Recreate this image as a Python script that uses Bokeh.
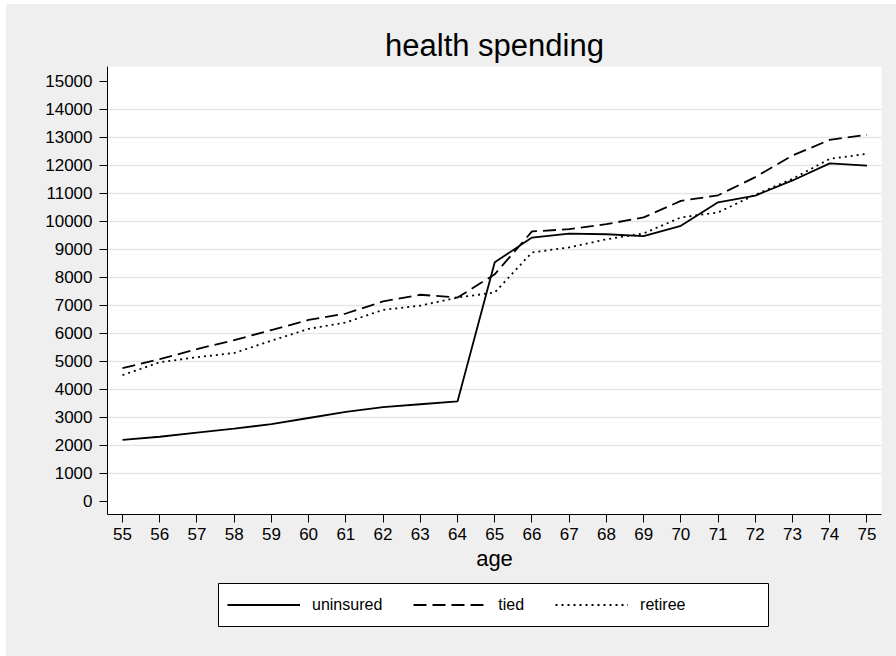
from bokeh.plotting import figure
from bokeh.layouts import column
from bokeh.models import (ColumnDataSource, FixedTicker, Legend, LegendItem, Range1d, BoxAnnotation)
from bokeh.embed import file_html
from bokeh.resources import INLINE

# ---- data ----
ages = list(range(55, 76))
uninsured = [2190, 2300, 2450, 2590, 2750, 2970, 3190, 3360, 3460, 3560,
             8530, 9410, 9550, 9530, 9460, 9830, 10670, 10910, 11450, 12060, 11980]
tied = [4750, 5070, 5430, 5750, 6110, 6470, 6700, 7130, 7370, 7270,
        8100, 9630, 9710, 9890, 10130, 10720, 10920, 11570, 12340, 12900, 13080]
retiree = [4500, 4960, 5140, 5290, 5730, 6150, 6380, 6830, 6980, 7270,
           7450, 8880, 9060, 9350, 9560, 10130, 10310, 10940, 11510, 12220, 12400]
x_ticks = list(range(55, 76))
y_ticks = list(range(0, 15001, 1000))
grid_ticks = list(range(1000, 14001, 1000))
series_names = ["uninsured", "tied", "retiree"]

source = ColumnDataSource(dict(age=ages, uninsured=uninsured, tied=tied, retiree=retiree))

FONT = "Liberation Sans"
BG = "#efefef"
W = 890
H_MAIN = 574
H_LEG = 78

p = figure(width=W, height=H_MAIN, output_backend="svg", toolbar_location=None,
           x_range=Range1d(54.597, 75.39), y_range=Range1d(-475, 15518),
           min_border_left=101, min_border_right=15, min_border_top=62, min_border_bottom=64,
           title="health spending")

p.border_fill_color = BG
p.background_fill_color = "white"
p.outline_line_color = None

p.title.text_font = FONT
p.title.text_font_size = "31px"
p.title.text_font_style = "normal"
p.title.text_color = "black"
p.title.align = "center"
p.title.standoff = 8

for ax in (p.xaxis[0], p.yaxis[0]):
    ax.axis_line_color = "black"
    ax.axis_line_width = 1
    ax.major_tick_line_color = "black"
    ax.major_tick_out = 8
    ax.major_tick_in = 0
    ax.minor_tick_line_color = None
    ax.major_label_text_font = FONT
    ax.major_label_text_font_size = "17px"
    ax.major_label_text_color = "black"

p.xaxis.ticker = FixedTicker(ticks=x_ticks)
p.xaxis.major_label_standoff = 5
p.xaxis.axis_label = "age"
p.xaxis.axis_label_text_font = FONT
p.xaxis.axis_label_text_font_size = "22px"
p.xaxis.axis_label_text_font_style = "normal"
p.xaxis.axis_label_text_color = "black"
p.xaxis.axis_label_standoff = 3

p.yaxis.ticker = FixedTicker(ticks=y_ticks)
p.yaxis.major_label_standoff = 7
p.yaxis.major_label_orientation = "horizontal"

p.xgrid.grid_line_color = None
p.ygrid.ticker = FixedTicker(ticks=grid_ticks)
p.ygrid.grid_line_color = "#e6e6e6"
p.ygrid.grid_line_width = 1.5

styles = [dict(line_dash="solid"), dict(line_dash="13 6"), dict(line_dash="2 4")]
for name, st in zip(series_names, styles):
    p.line("age", name, source=source, line_color="black", line_width=1.8, **st)

# ---- legend strip (same grey background) ----
pl = figure(width=W, height=H_LEG, output_backend="svg", toolbar_location=None,
            x_axis_type=None, y_axis_type=None, x_range=Range1d(0, 1), y_range=Range1d(0, 1),
            min_border_left=101, min_border_right=15, min_border_top=0, min_border_bottom=0)
pl.border_fill_color = BG
pl.background_fill_color = BG
pl.outline_line_color = None
pl.grid.visible = False

# legend frame (wider on the right than bokeh's automatic box)
pl.add_layout(BoxAnnotation(left=111, right=661, bottom=30, top=73,
                            left_units="screen", right_units="screen",
                            bottom_units="screen", top_units="screen",
                            fill_color="white", fill_alpha=1.0,
                            line_color="black", line_alpha=1.0, line_width=1, line_dash="solid"))

items = []
for name, st in zip(series_names, styles):
    # keys for the legend; their data lie outside this strip's ranges
    r = pl.line("age", name, source=source, line_color="black", line_width=1.8, **st)
    items.append(LegendItem(label=name, renderers=[r]))

legend = Legend(items=items, orientation="horizontal", location=(120, 39),
                glyph_width=73, glyph_height=25, label_height=25,
                label_standoff=12, spacing=31, padding=0, margin=0,
                label_text_font=FONT, label_text_font_size="16px", label_text_color="black",
                border_line_color=None, background_fill_alpha=0.0)
pl.add_layout(legend)

layout = column(p, pl, spacing=0,
                styles={"background-color": BG, "margin-left": "6px", "margin-top": "4px"})
open("out.html", "w").write(file_html(layout, INLINE))
